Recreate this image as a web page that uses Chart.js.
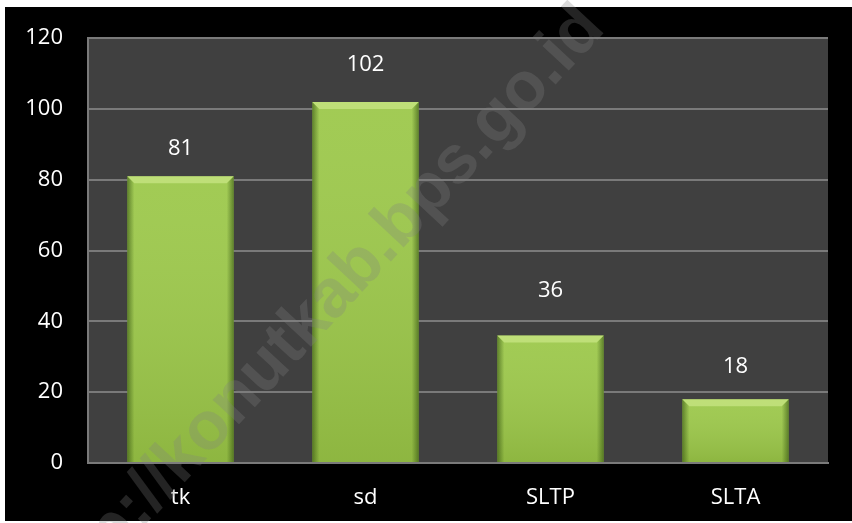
<!DOCTYPE html>
<html>
<head>
<meta charset="utf-8">
<script src="https://cdn.jsdelivr.net/npm/chart.js@4/dist/chart.umd.min.js"></script>
<style>
    html, body { margin: 0; padding: 0; background: #ffffff; }
    #wadah { width: 852px; height: 523px; position: relative; }
</style>
</head>
<body>
<div id="wadah"><canvas id="grafikPendidikan"></canvas></div>
<script>
const kategori = ['tk', 'sd', 'SLTP', 'SLTA'];
const jumlah = [81, 102, 36, 18];
const tickY = [0, 20, 40, 60, 80, 100, 120];
// jarak label nilai di atas batang (px)
const jarakLabel = [28, 37, 45, 33];

const hurufDasar = "'Open Sans', 'Noto Sans', sans-serif";

// latar hitam dan area plot abu-abu gelap
const latarPlugin = {
    id: 'latar',
    beforeDraw(chart) {
        const { ctx, chartArea } = chart;
        ctx.save();
        ctx.fillStyle = '#ffffff';
        ctx.fillRect(0, 0, chart.width, chart.height);
        ctx.fillStyle = '#000000';
        ctx.fillRect(5, 7, chart.width - 5, chart.height - 9);
        ctx.fillStyle = '#404040';
        ctx.fillRect(chartArea.left, chartArea.top, chartArea.right - chartArea.left, chartArea.bottom - chartArea.top);
        ctx.restore();
    }
};

// efek bevel pada batang + label nilai
const bevelPlugin = {
    id: 'bevel',
    afterDatasetsDraw(chart) {
        const { ctx } = chart;
        const meta = chart.getDatasetMeta(0);
        meta.data.forEach((bar, i) => {
            const kiri = bar.x - bar.width / 2;
            const kanan = bar.x + bar.width / 2;
            const atas = bar.y;
            const bawah = bar.base;
            const b = 7;
            ctx.save();

            // gradasi vertikal halus
            const gv = ctx.createLinearGradient(0, atas, 0, bawah);
            gv.addColorStop(0, 'rgba(255,255,255,0.06)');
            gv.addColorStop(1, 'rgba(60,80,10,0.15)');
            ctx.fillStyle = gv;
            ctx.fillRect(kiri, atas, kanan - kiri, bawah - atas);

            // sisi kiri
            const gk = ctx.createLinearGradient(kiri, 0, kiri + b, 0);
            gk.addColorStop(0, 'rgba(40,70,10,0.55)');
            gk.addColorStop(1, 'rgba(40,70,10,0)');
            ctx.fillStyle = gk;
            ctx.beginPath();
            ctx.moveTo(kiri, atas);
            ctx.lineTo(kiri + b, atas + b);
            ctx.lineTo(kiri + b, bawah);
            ctx.lineTo(kiri, bawah);
            ctx.closePath();
            ctx.fill();

            // sisi kanan
            const gn = ctx.createLinearGradient(kanan, 0, kanan - b, 0);
            gn.addColorStop(0, 'rgba(40,70,10,0.55)');
            gn.addColorStop(1, 'rgba(40,70,10,0)');
            ctx.fillStyle = gn;
            ctx.beginPath();
            ctx.moveTo(kanan, atas);
            ctx.lineTo(kanan - b, atas + b);
            ctx.lineTo(kanan - b, bawah);
            ctx.lineTo(kanan, bawah);
            ctx.closePath();
            ctx.fill();

            // sisi atas terang
            ctx.fillStyle = 'rgba(215,240,150,0.55)';
            ctx.beginPath();
            ctx.moveTo(kiri, atas);
            ctx.lineTo(kanan, atas);
            ctx.lineTo(kanan - b, atas + b);
            ctx.lineTo(kiri + b, atas + b);
            ctx.closePath();
            ctx.fill();

            // label nilai
            ctx.fillStyle = '#ffffff';
            ctx.font = `22px ${hurufDasar}`;
            ctx.textAlign = 'center';
            ctx.textBaseline = 'middle';
            ctx.fillText(String(jumlah[i]), bar.x, atas - jarakLabel[i]);
            ctx.restore();
        });
    },
    afterDraw(chart) {
        // tanda air miring
        const { ctx } = chart;
        ctx.save();
        ctx.translate(316, 314);
        ctx.rotate(-47 * Math.PI / 180);
        ctx.fillStyle = 'rgba(128,128,128,0.28)';
        ctx.font = "bold 68px 'Liberation Sans', Arial, sans-serif";
        ctx.textAlign = 'center';
        ctx.textBaseline = 'middle';
        ctx.fillText('http://konutkab.bps.go.id', 0, 0);
        ctx.restore();
    }
};

const grafik = new Chart(document.getElementById('grafikPendidikan'), {
    type: 'bar',
    data: {
        labels: kategori,
        datasets: [{
            data: jumlah,
            backgroundColor: '#9cc84a',
            borderWidth: 0,
            barPercentage: 0.575,
            categoryPercentage: 1
        }]
    },
    options: {
        responsive: true,
        maintainAspectRatio: false,
        animation: false,
        layout: { padding: { left: 5, top: 37, right: 24, bottom: 2 } },
        plugins: {
            legend: { display: false },
            tooltip: { enabled: false }
        },
        scales: {
            x: {
                grid: { display: false, drawTicks: false },
                border: { display: true, color: '#7a7a7a', width: 2 },
                ticks: {
                    color: '#ffffff',
                    font: { family: hurufDasar, size: 22 },
                    padding: 22
                },
                afterFit(scale) { scale.height = 58; }
            },
            y: {
                min: 0,
                max: 120,
                afterBuildTicks(scale) { scale.ticks = tickY.map(v => ({ value: v })); },
                grid: { color: '#7a7a7a', lineWidth: 2, drawTicks: false },
                border: { display: true, color: '#7a7a7a', width: 2 },
                ticks: {
                    color: '#ffffff',
                    font: { family: hurufDasar, size: 22 },
                    padding: 25
                },
                afterFit(scale) { scale.width = 83; }
            }
        }
    },
    plugins: [latarPlugin, bevelPlugin]
});
</script>
</body>
</html>
